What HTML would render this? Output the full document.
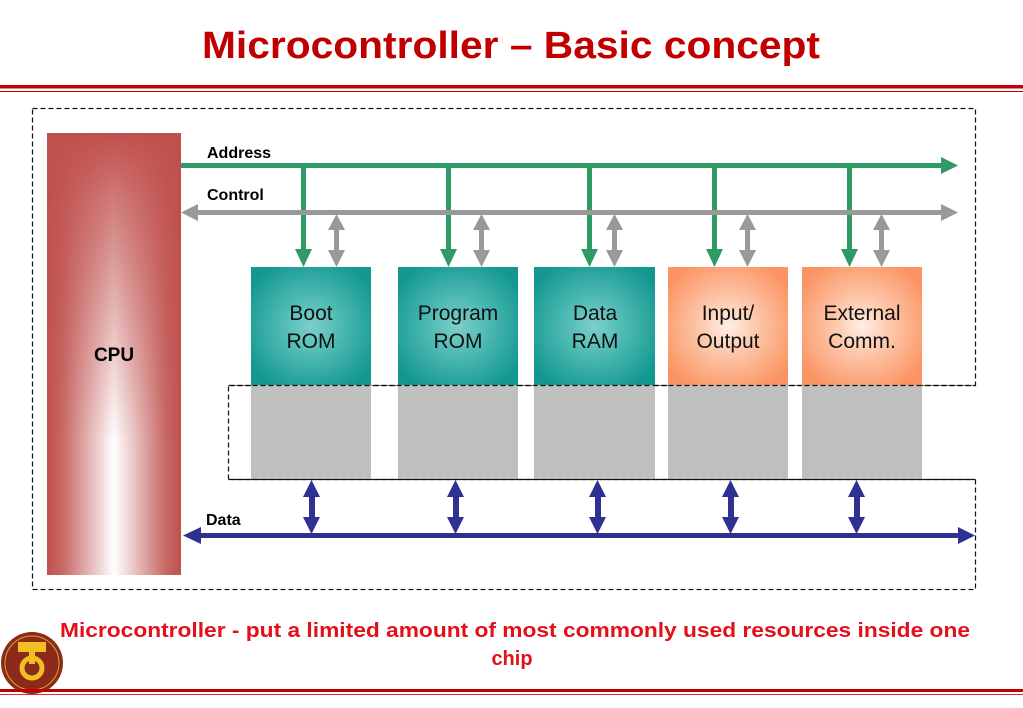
<!DOCTYPE html>
<html><head><meta charset="utf-8"><style>
html,body{margin:0;padding:0;background:#fff;}
svg{display:block;}
</style></head><body>
<svg width="1023" height="708" viewBox="0 0 1023 708" xmlns="http://www.w3.org/2000/svg" font-family="Liberation Sans, sans-serif">
<defs>
<linearGradient id="cpuH" x1="0" y1="0" x2="1" y2="0">
<stop offset="0" stop-color="#c0504d"/><stop offset="0.12" stop-color="#c86a67"/><stop offset="0.5" stop-color="#ffffff"/><stop offset="0.88" stop-color="#c86a67"/><stop offset="1" stop-color="#c0504d"/>
</linearGradient>
<linearGradient id="cpuV" x1="0" y1="0" x2="0" y2="1">
<stop offset="0" stop-color="#c0504d" stop-opacity="1"/><stop offset="0.15" stop-color="#c0504d" stop-opacity="0.75"/><stop offset="0.7" stop-color="#c0504d" stop-opacity="0"/><stop offset="1" stop-color="#c0504d" stop-opacity="0"/>
</linearGradient>
<radialGradient id="teal" cx="0.5" cy="0.5" r="0.6">
<stop offset="0" stop-color="#7dcfca"/><stop offset="0.35" stop-color="#55bdb7"/><stop offset="1" stop-color="#139890"/>
</radialGradient>
<radialGradient id="orange" cx="0.5" cy="0.5" r="0.6">
<stop offset="0" stop-color="#fff0e8"/><stop offset="0.35" stop-color="#fdcbb0"/><stop offset="1" stop-color="#fb9463"/>
</radialGradient>
</defs>

<text x="511" y="58" text-anchor="middle" font-size="38" font-weight="bold" fill="#c00000" textLength="618" lengthAdjust="spacingAndGlyphs">Microcontroller – Basic concept</text>
<rect x="0" y="85" width="1023" height="3.5" fill="#c00000"/>
<rect x="0" y="91" width="1023" height="1" fill="#c00000"/>

<path d="M32.5,108.5 H975.5 V385.5 H228.5 V479.5 H975.5 V589.5 H32.5 Z" fill="none" stroke="#111" stroke-width="1.2" stroke-dasharray="5,3"/>

<rect x="47" y="133" width="134" height="442" fill="url(#cpuH)"/>
<rect x="47" y="133" width="134" height="442" fill="url(#cpuV)"/>
<text x="114" y="361" text-anchor="middle" font-size="19" font-weight="bold">CPU</text>

<!-- boxes -->
<g font-size="21" text-anchor="middle" fill="#111">
<rect x="251" y="267" width="120" height="118" fill="url(#teal)"/>
<rect x="251" y="385" width="120" height="94" fill="#bfbfbf"/>
<text x="311" y="320">Boot</text><text x="311" y="348">ROM</text>
<rect x="398" y="267" width="120" height="118" fill="url(#teal)"/>
<rect x="398" y="385" width="120" height="94" fill="#bfbfbf"/>
<text x="458" y="320">Program</text><text x="458" y="348">ROM</text>
<rect x="534" y="267" width="121" height="118" fill="url(#teal)"/>
<rect x="534" y="385" width="121" height="94" fill="#bfbfbf"/>
<text x="595" y="320">Data</text><text x="595" y="348">RAM</text>
<rect x="668" y="267" width="120" height="118" fill="url(#orange)"/>
<rect x="668" y="385" width="120" height="94" fill="#bfbfbf"/>
<text x="728" y="320">Input/</text><text x="728" y="348">Output</text>
<rect x="802" y="267" width="120" height="118" fill="url(#orange)"/>
<rect x="802" y="385" width="120" height="94" fill="#bfbfbf"/>
<text x="862" y="320">External</text><text x="862" y="348">Comm.</text>
</g>
<path d="M228.5,385.5 H975.5 M228.5,479.5 H975.5" stroke="#111" stroke-width="1.2" stroke-dasharray="5,3"/>

<!-- address bus -->
<text x="207" y="158" font-size="16" font-weight="bold">Address</text>
<rect x="181" y="163" width="762" height="5" fill="#2e9a64"/>
<polygon points="941,157 958,165.5 941,174" fill="#2e9a64"/>
<g fill="#2e9a64">
<rect x="301" y="165" width="5" height="86"/><polygon points="295,249 312,249 303.5,267"/>
<rect x="446" y="165" width="5" height="86"/><polygon points="440,249 457,249 448.5,267"/>
<rect x="587" y="165" width="5" height="86"/><polygon points="581,249 598,249 589.5,267"/>
<rect x="712" y="165" width="5" height="86"/><polygon points="706,249 723,249 714.5,267"/>
<rect x="847" y="165" width="5" height="86"/><polygon points="841,249 858,249 849.5,267"/>
</g>

<!-- control bus -->
<text x="207" y="200" font-size="16" font-weight="bold">Control</text>
<rect x="196" y="210" width="747" height="5" fill="#999"/>
<polygon points="181,212.5 198,204 198,221" fill="#999"/>
<polygon points="941,204 958,212.5 941,221" fill="#999"/>
<g fill="#999">
<rect x="334" y="228" width="5" height="24"/><polygon points="328,230 345,230 336.5,214"/><polygon points="328,250 345,250 336.5,267"/>
<rect x="479" y="228" width="5" height="24"/><polygon points="473,230 490,230 481.5,214"/><polygon points="473,250 490,250 481.5,267"/>
<rect x="612" y="228" width="5" height="24"/><polygon points="606,230 623,230 614.5,214"/><polygon points="606,250 623,250 614.5,267"/>
<rect x="745" y="228" width="5" height="24"/><polygon points="739,230 756,230 747.5,214"/><polygon points="739,250 756,250 747.5,267"/>
<rect x="879" y="228" width="5" height="24"/><polygon points="873,230 890,230 881.5,214"/><polygon points="873,250 890,250 881.5,267"/>
</g>

<!-- data bus -->
<text x="206" y="525" font-size="16" font-weight="bold">Data</text>
<rect x="198" y="533" width="762" height="5" fill="#2e3192"/>
<polygon points="183,535.5 201,527 201,544" fill="#2e3192"/>
<polygon points="958,527 975,535.5 958,544" fill="#2e3192"/>
<g fill="#2e3192">
<rect x="309" y="494" width="6" height="26"/><polygon points="303,497 320,497 311.5,480"/><polygon points="303,517 320,517 311.5,534"/>
<rect x="453" y="494" width="6" height="26"/><polygon points="447,497 464,497 455.5,480"/><polygon points="447,517 464,517 455.5,534"/>
<rect x="595" y="494" width="6" height="26"/><polygon points="589,497 606,497 597.5,480"/><polygon points="589,517 606,517 597.5,534"/>
<rect x="728" y="494" width="6" height="26"/><polygon points="722,497 739,497 730.5,480"/><polygon points="722,517 739,517 730.5,534"/>
<rect x="854" y="494" width="6" height="26"/><polygon points="848,497 865,497 856.5,480"/><polygon points="848,517 865,517 856.5,534"/>
</g>

<!-- caption -->
<text x="515" y="637" text-anchor="middle" font-size="20" font-weight="bold" fill="#e3101a" textLength="910" lengthAdjust="spacingAndGlyphs">Microcontroller - put a limited amount of most commonly used resources inside one</text>
<text x="512" y="665" text-anchor="middle" font-size="20" font-weight="bold" fill="#e3101a">chip</text>

<!-- logo -->
<circle cx="32" cy="663" r="31" fill="#8b2a1a"/>
<circle cx="32" cy="663" r="27" fill="none" stroke="#d9a520" stroke-width="1"/>
<rect x="18" y="642" width="28" height="10" fill="#f0c020"/>
<rect x="29" y="650" width="6" height="14" fill="#f0c020"/>
<circle cx="32" cy="668" r="10" fill="none" stroke="#f0c020" stroke-width="5"/>

<rect x="0" y="689" width="1023" height="3" fill="#c00000"/>
<rect x="0" y="694" width="1023" height="1" fill="#d03030"/>
</svg>
</body></html>
